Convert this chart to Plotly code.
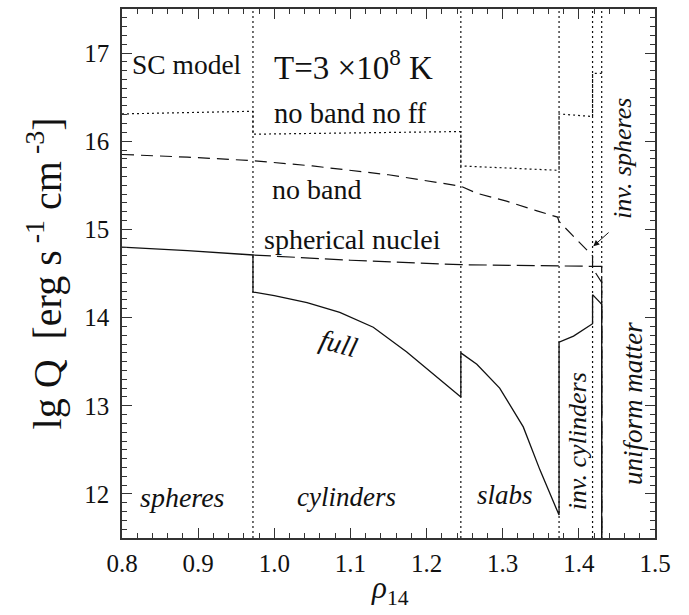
import plotly.graph_objects as go

# ---- data ----
boundaries = [0.972, 1.245, 1.374, 1.418, 1.43]

full_x = [0.80, 0.886, 0.972, 0.972, 1.00, 1.043, 1.086, 1.130, 1.174, 1.218, 1.245,
          1.245, 1.266, 1.296, 1.327, 1.349, 1.374,
          1.374, 1.393, 1.418, 1.418, 1.428, 1.43, 1.43]
full_y = [14.80, 14.76, 14.71, 14.29, 14.25, 14.17, 14.06, 13.89, 13.61, 13.29, 13.10,
          13.60, 13.47, 13.20, 12.76, 12.27, 11.76,
          13.72, 13.79, 13.93, 14.26, 14.17, 14.15, 11.0]

noband_x = [0.80, 0.886, 0.972, 1.05, 1.15, 1.245, 1.266, 1.305, 1.345, 1.372, 1.374,
            1.408, 1.418, 1.418, 1.43, 1.43]
noband_y = [15.85, 15.82, 15.78, 15.72, 15.62, 15.49, 15.41, 15.32, 15.21, 15.14, 15.09,
            14.78, 14.70, 14.56, 14.40, 11.0]

sph_x = [0.972, 1.10, 1.245, 1.374, 1.418, 1.43, 1.43]
sph_y = [14.71, 14.65, 14.60, 14.585, 14.58, 14.58, 11.0]

noff_x = [0.80, 0.972, 0.972, 1.245, 1.245, 1.374, 1.374, 1.418, 1.418, 1.43]
noff_y = [16.31, 16.34, 16.08, 16.11, 15.72, 15.67, 16.31, 16.28, 16.77, 16.77]

x_range = [0.8, 1.5]
y_range = [11.5, 17.5]
x_ticks = [0.8, 0.9, 1.0, 1.1, 1.2, 1.3, 1.4, 1.5]
y_ticks = [12, 13, 14, 15, 16, 17]

FONT = "Times New Roman"
INK = "#111111"
FRAME = "#333333"

fig = go.Figure()

# phase boundaries (dotted verticals)
bx, by = [], []
for b in boundaries:
    bx += [b, b, None]
    by += [y_range[0], y_range[1], None]
fig.add_trace(go.Scatter(x=bx, y=by, mode="lines",
                         line=dict(color=INK, width=1.2, dash="2px,3px"),
                         hoverinfo="skip"))

fig.add_trace(go.Scatter(x=noff_x, y=noff_y, mode="lines",
                         line=dict(color=INK, width=1.2, dash="2px,3px")))
fig.add_trace(go.Scatter(x=noband_x, y=noband_y, mode="lines",
                         line=dict(color=INK, width=1.2, dash="12px,7px")))
fig.add_trace(go.Scatter(x=sph_x, y=sph_y, mode="lines",
                         line=dict(color=INK, width=1.2, dash="18px,6px")))
fig.add_trace(go.Scatter(x=full_x, y=full_y, mode="lines",
                         line=dict(color=INK, width=1.3)))
# invisible trace to carry the mirrored (top/right) tick axes
fig.add_trace(go.Scatter(x=x_range, y=y_range, xaxis="x2", yaxis="y2", mode="lines",
                         line=dict(width=0), opacity=0, hoverinfo="skip"))

ann = []
def A(text, x, y, size, angle=0, ref="data", xanchor="center", yanchor="middle"):
    ann.append(dict(text=text, x=x, y=y,
                    xref="x" if ref == "data" else "paper",
                    yref="y" if ref == "data" else "paper",
                    showarrow=False, textangle=angle,
                    xanchor=xanchor, yanchor=yanchor,
                    font=dict(family=FONT, size=size, color=INK)))

A("SC model", 0.886, 16.87, 27.5)
A("T=3 ×10<sup>8</sup> K", 0.997, 16.87, 33, xanchor="left")
A("no band no ff", 0.997, 16.32, 28.5, xanchor="left")
A("no band", 1.056, 15.45, 28)
A("spherical nuclei", 1.103, 14.89, 28)
A("<i>full</i>", 1.085, 13.71, 28, angle=15)
A("<i>spheres</i>", 0.879, 11.96, 28)
A("<i>cylinders</i>", 1.095, 11.96, 27)
A("<i>slabs</i>", 1.303, 11.99, 27)
A("<i>inv. cylinders</i>", 1.398, 12.6, 26, angle=-90)
A("<i>uniform matter</i>", 1.471, 13.03, 27, angle=-90)
A("<i>inv. spheres</i>", 1.458, 15.8, 26, angle=-90)

# axis titles
A("lg Q  [erg s<sup> -1</sup> cm<sup> -3</sup>]", -0.1445, 0.50, 40, angle=-90, ref="paper")
A("<i>ρ</i><sub>14</sub>", 0.503, -0.098, 31, ref="paper")

# arrow pointing to inv. spheres region
ann.append(dict(x=1.419, y=14.81, ax=1.441, ay=14.98, xref="x", yref="y",
                axref="x", ayref="y", text="", showarrow=True,
                arrowhead=2, arrowsize=1.2, arrowwidth=1, arrowcolor=INK))

tick_common = dict(ticks="inside", ticklen=10, tickwidth=1.2, tickcolor=FRAME,
                   showgrid=False, zeroline=False)

fig.update_layout(
    width=689, height=615,
    margin=dict(l=122, r=34, t=7, b=77),
    plot_bgcolor="white", paper_bgcolor="white",
    font=dict(family=FONT, color=INK),
    showlegend=False,
    annotations=ann,
    xaxis=dict(range=x_range, tickvals=x_ticks, ticktext=[f"{v:.1f}" for v in x_ticks],
               showline=True, linewidth=1.6, linecolor=FRAME, mirror=True,
               tickfont=dict(family=FONT, size=25, color=INK), ticklabelstandoff=2,
               minor=dict(dtick=0.02, tick0=0.8, ticks="inside", ticklen=5,
                          tickcolor=FRAME, tickwidth=1),
               **tick_common),
    yaxis=dict(range=y_range, tickvals=y_ticks,
               showline=True, linewidth=1.6, linecolor=FRAME, mirror=True,
               tickfont=dict(family=FONT, size=25, color=INK), ticklabelstandoff=6,
               minor=dict(dtick=0.1, tick0=11.5, ticks="inside", ticklen=5,
                          tickcolor=FRAME, tickwidth=1),
               **tick_common),
    xaxis2=dict(range=x_range, overlaying="x", side="top", tickvals=x_ticks,
                showticklabels=False, showline=False,
                minor=dict(dtick=0.02, tick0=0.8, ticks="inside", ticklen=5,
                           tickcolor=FRAME, tickwidth=1),
                **tick_common),
    yaxis2=dict(range=y_range, overlaying="y", side="right", tickvals=y_ticks,
                showticklabels=False, showline=False,
                minor=dict(dtick=0.1, tick0=11.5, ticks="inside", ticklen=5,
                           tickcolor=FRAME, tickwidth=1),
                **tick_common),
)

fig.write_html("out.html")
